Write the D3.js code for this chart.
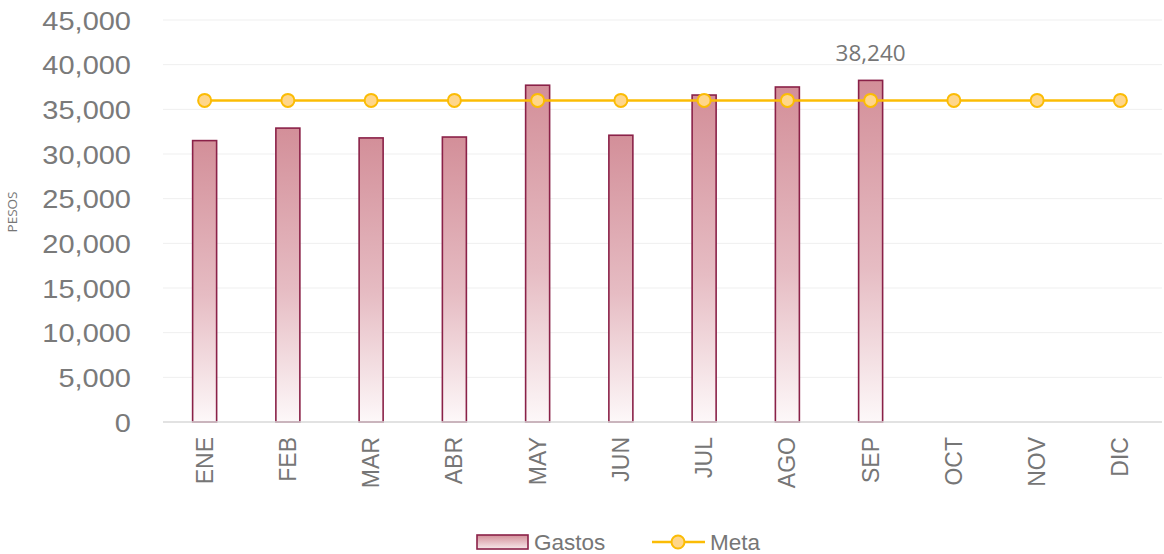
<!DOCTYPE html>
<html><head><meta charset="utf-8">
<script src="https://cdn.jsdelivr.net/npm/d3@7"></script>
<style>body{margin:0;background:#fff}svg{display:block}</style>
</head><body><svg id="c" width="1164" height="554"></svg>
<script>
const months = ["ENE","FEB","MAR","ABR","MAY","JUN","JUL","AGO","SEP","OCT","NOV","DIC"];
const gastos = [31500,32900,31800,31900,37700,32100,36600,37500,38240,null,null,null];
const meta = [36000,36000,36000,36000,36000,36000,36000,36000,36000,36000,36000,36000];
const yTicks = [0,5000,10000,15000,20000,25000,30000,35000,40000,45000];
const labelIndex = 8;

const svg = d3.select("#c");
const m = {l:163, r:1162, t:20, b:422};
const x = d3.scaleBand().domain(months).range([m.l, m.r]).paddingInner(0).paddingOuter(0);
const y = d3.scaleLinear().domain([0,45000]).range([m.b, m.t]);
const fmt = d3.format(",");

const defs = svg.append("defs");
const g = defs.append("linearGradient").attr("id","bg").attr("x1",0).attr("y1",0).attr("x2",0).attr("y2",1);
g.append("stop").attr("offset","0%").attr("stop-color","#d38f99");
g.append("stop").attr("offset","55%").attr("stop-color","#e6bcc3");
g.append("stop").attr("offset","100%").attr("stop-color","#fdf8f9");
const lg = defs.append("linearGradient").attr("id","lg").attr("x1",0).attr("y1",0).attr("x2",0).attr("y2",1);
lg.append("stop").attr("offset","0%").attr("stop-color","#d38f99");
lg.append("stop").attr("offset","100%").attr("stop-color","#f7e8eb");

// grid
svg.append("g").selectAll("line").data(yTicks.filter(d=>d>0)).join("line")
  .attr("x1",m.l).attr("x2",m.r).attr("y1",d=>y(d)).attr("y2",d=>y(d))
  .attr("stroke","#efefef").attr("stroke-width",1);

// y axis labels
const yAxis = d3.axisLeft(y).tickValues(yTicks).tickFormat(fmt).tickSize(0).tickPadding(0);
const ya = svg.append("g").attr("transform",`translate(131,0)`).call(yAxis);
ya.select(".domain").remove();
ya.selectAll("text").attr("font-family","Liberation Sans, Arial, sans-serif").attr("font-size",25).attr("fill","#7a7a7a")
  .attr("dy","0.36em").attr("x",0).attr("transform","scale(1.16,1)");

// y title
svg.append("text").attr("transform","translate(17,212) rotate(-90)").attr("text-anchor","middle")
  .attr("font-family","Open Sans, sans-serif").attr("font-size",13.5).attr("fill","#767676").text("PESOS");

// bars
const bw = 24;
svg.append("g").selectAll("rect").data(months.map((mo,i)=>({mo,v:gastos[i]})).filter(d=>d.v!=null)).join("rect")
  .attr("x",d=>x(d.mo)+x.bandwidth()/2-bw/2).attr("width",bw)
  .attr("y",d=>y(d.v)).attr("height",d=>y(0)-y(d.v))
  .attr("fill","url(#bg)").attr("stroke","#8a2148").attr("stroke-width",1.6);

// baseline
const xAxis = d3.axisBottom(x).tickSize(0).tickPadding(0);
const xa = svg.append("g").attr("transform",`translate(0,${m.b})`).call(xAxis);
xa.select(".domain").attr("stroke","#d9d9d9").attr("stroke-width",1.5).attr("d",`M${m.l},0H${m.r}`);
xa.selectAll("text").attr("font-family","Liberation Sans, Arial, sans-serif").attr("font-size",23).attr("fill","#767676")
  .attr("transform","translate(0,15) rotate(-90)").attr("text-anchor","end").attr("dy","0.35em").attr("x",0).attr("y",0);

// meta line
const line = d3.line().x((d,i)=>x(months[i])+x.bandwidth()/2).y(d=>y(d));
svg.append("path").datum(meta).attr("d",line).attr("fill","none").attr("stroke","#fbbc05").attr("stroke-width",2.5);
svg.append("g").selectAll("circle").data(meta).join("circle")
  .attr("cx",(d,i)=>x(months[i])+x.bandwidth()/2).attr("cy",d=>y(d)).attr("r",6.5)
  .attr("fill","#ffd68a").attr("stroke","#fbbc05").attr("stroke-width",2);

// data label
svg.append("text").attr("x",x(months[labelIndex])+x.bandwidth()/2).attr("y",y(gastos[labelIndex])-19)
  .attr("text-anchor","middle").attr("font-family","Open Sans, sans-serif").attr("font-size",22.5).attr("fill","#767676")
  .text(fmt(gastos[labelIndex]));

// legend
const leg = svg.append("g");
leg.append("rect").attr("x",477).attr("y",535).attr("width",51).attr("height",14).attr("fill","url(#lg)").attr("stroke","#8a2148").attr("stroke-width",1.6);
leg.append("text").attr("x",534).attr("y",542).attr("dy","0.35em").attr("font-family","Liberation Sans, Arial, sans-serif").attr("font-size",22.5).attr("fill","#767676").text("Gastos");
leg.append("line").attr("x1",652).attr("x2",705).attr("y1",542).attr("y2",542).attr("stroke","#fbbc05").attr("stroke-width",2.5);
leg.append("circle").attr("cx",678).attr("cy",542).attr("r",6.5).attr("fill","#ffd68a").attr("stroke","#fbbc05").attr("stroke-width",2);
leg.append("text").attr("x",710).attr("y",542).attr("dy","0.35em").attr("font-family","Liberation Sans, Arial, sans-serif").attr("font-size",22.5).attr("fill","#767676").text("Meta");
</script></body></html>
